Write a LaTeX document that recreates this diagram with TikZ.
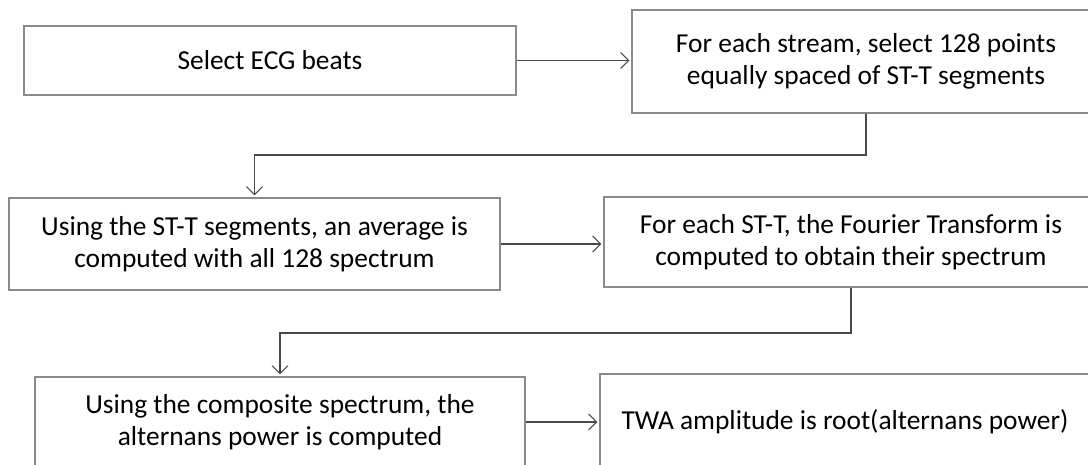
\documentclass[tikz,border=0pt]{standalone}
\usepackage{fontspec}
\setmainfont{Carlito}
\usetikzlibrary{arrows.meta}
\definecolor{boxgray}{HTML}{8A8A8A}
\definecolor{linkgray}{HTML}{4A4A4A}
\begin{document}
\begin{tikzpicture}[x=1pt,y=-1pt,
  stepbox/.style={draw=boxgray, line width=1.1pt, fill=white, inner sep=0pt,
    align=center, text=black, font=\fontsize{27.4}{32}\selectfont},
  link/.style={draw=linkgray, line width=1.1pt, shorten >=2pt,
    -{Straight Barb[length=8pt,width=16pt,line width=1.1pt]}}]
\useasboundingbox (0,0) rectangle (1088,464);
\clip (0,0) rectangle (1088,464);
\fill[white] (0,0) rectangle (1088,464);

% process steps
\node[stepbox, minimum width=492pt, minimum height=69pt] (b1) at (270,60.5)
  {Select ECG beats};
\node[stepbox, minimum width=468pt, minimum height=103pt] (b2) at (866,61.5)
  {For each stream, select 128 points\\equally spaced of ST-T segments};
\node[stepbox, minimum width=491pt, minimum height=92pt] (b3) at (254.5,244)
  {Using the ST-T segments, an average is\\computed with all 128 spectrum};
\node[stepbox, minimum width=494pt, minimum height=90pt] (b4) at (851,242)
  {For each ST-T, the Fourier Transform is\\computed to obtain their spectrum};
\node[stepbox, minimum width=490pt, minimum height=90pt] (b5) at (280,422)
  {Using the composite spectrum, the\\alternans power is computed};
\node[stepbox, minimum width=490pt, minimum height=96pt] (b6) at (845,422)
  {TWA amplitude is root(alternans power)};

% bends of the return connectors
\coordinate (k1) at (866,155);
\coordinate (k2) at (851,333);

% connectors
\draw[link] (b1.east) -- (b1.east -| b2.west);
\draw[link] (b2.south) -- (k1) -| (b3.north);
\draw[link] (b3.east) -- (b3.east -| b4.west);
\draw[link] (b4.south) -- (k2) -| (b5.north);
\draw[link] (b5.east) -- (b5.east -| b6.west);
\end{tikzpicture}
\end{document}
